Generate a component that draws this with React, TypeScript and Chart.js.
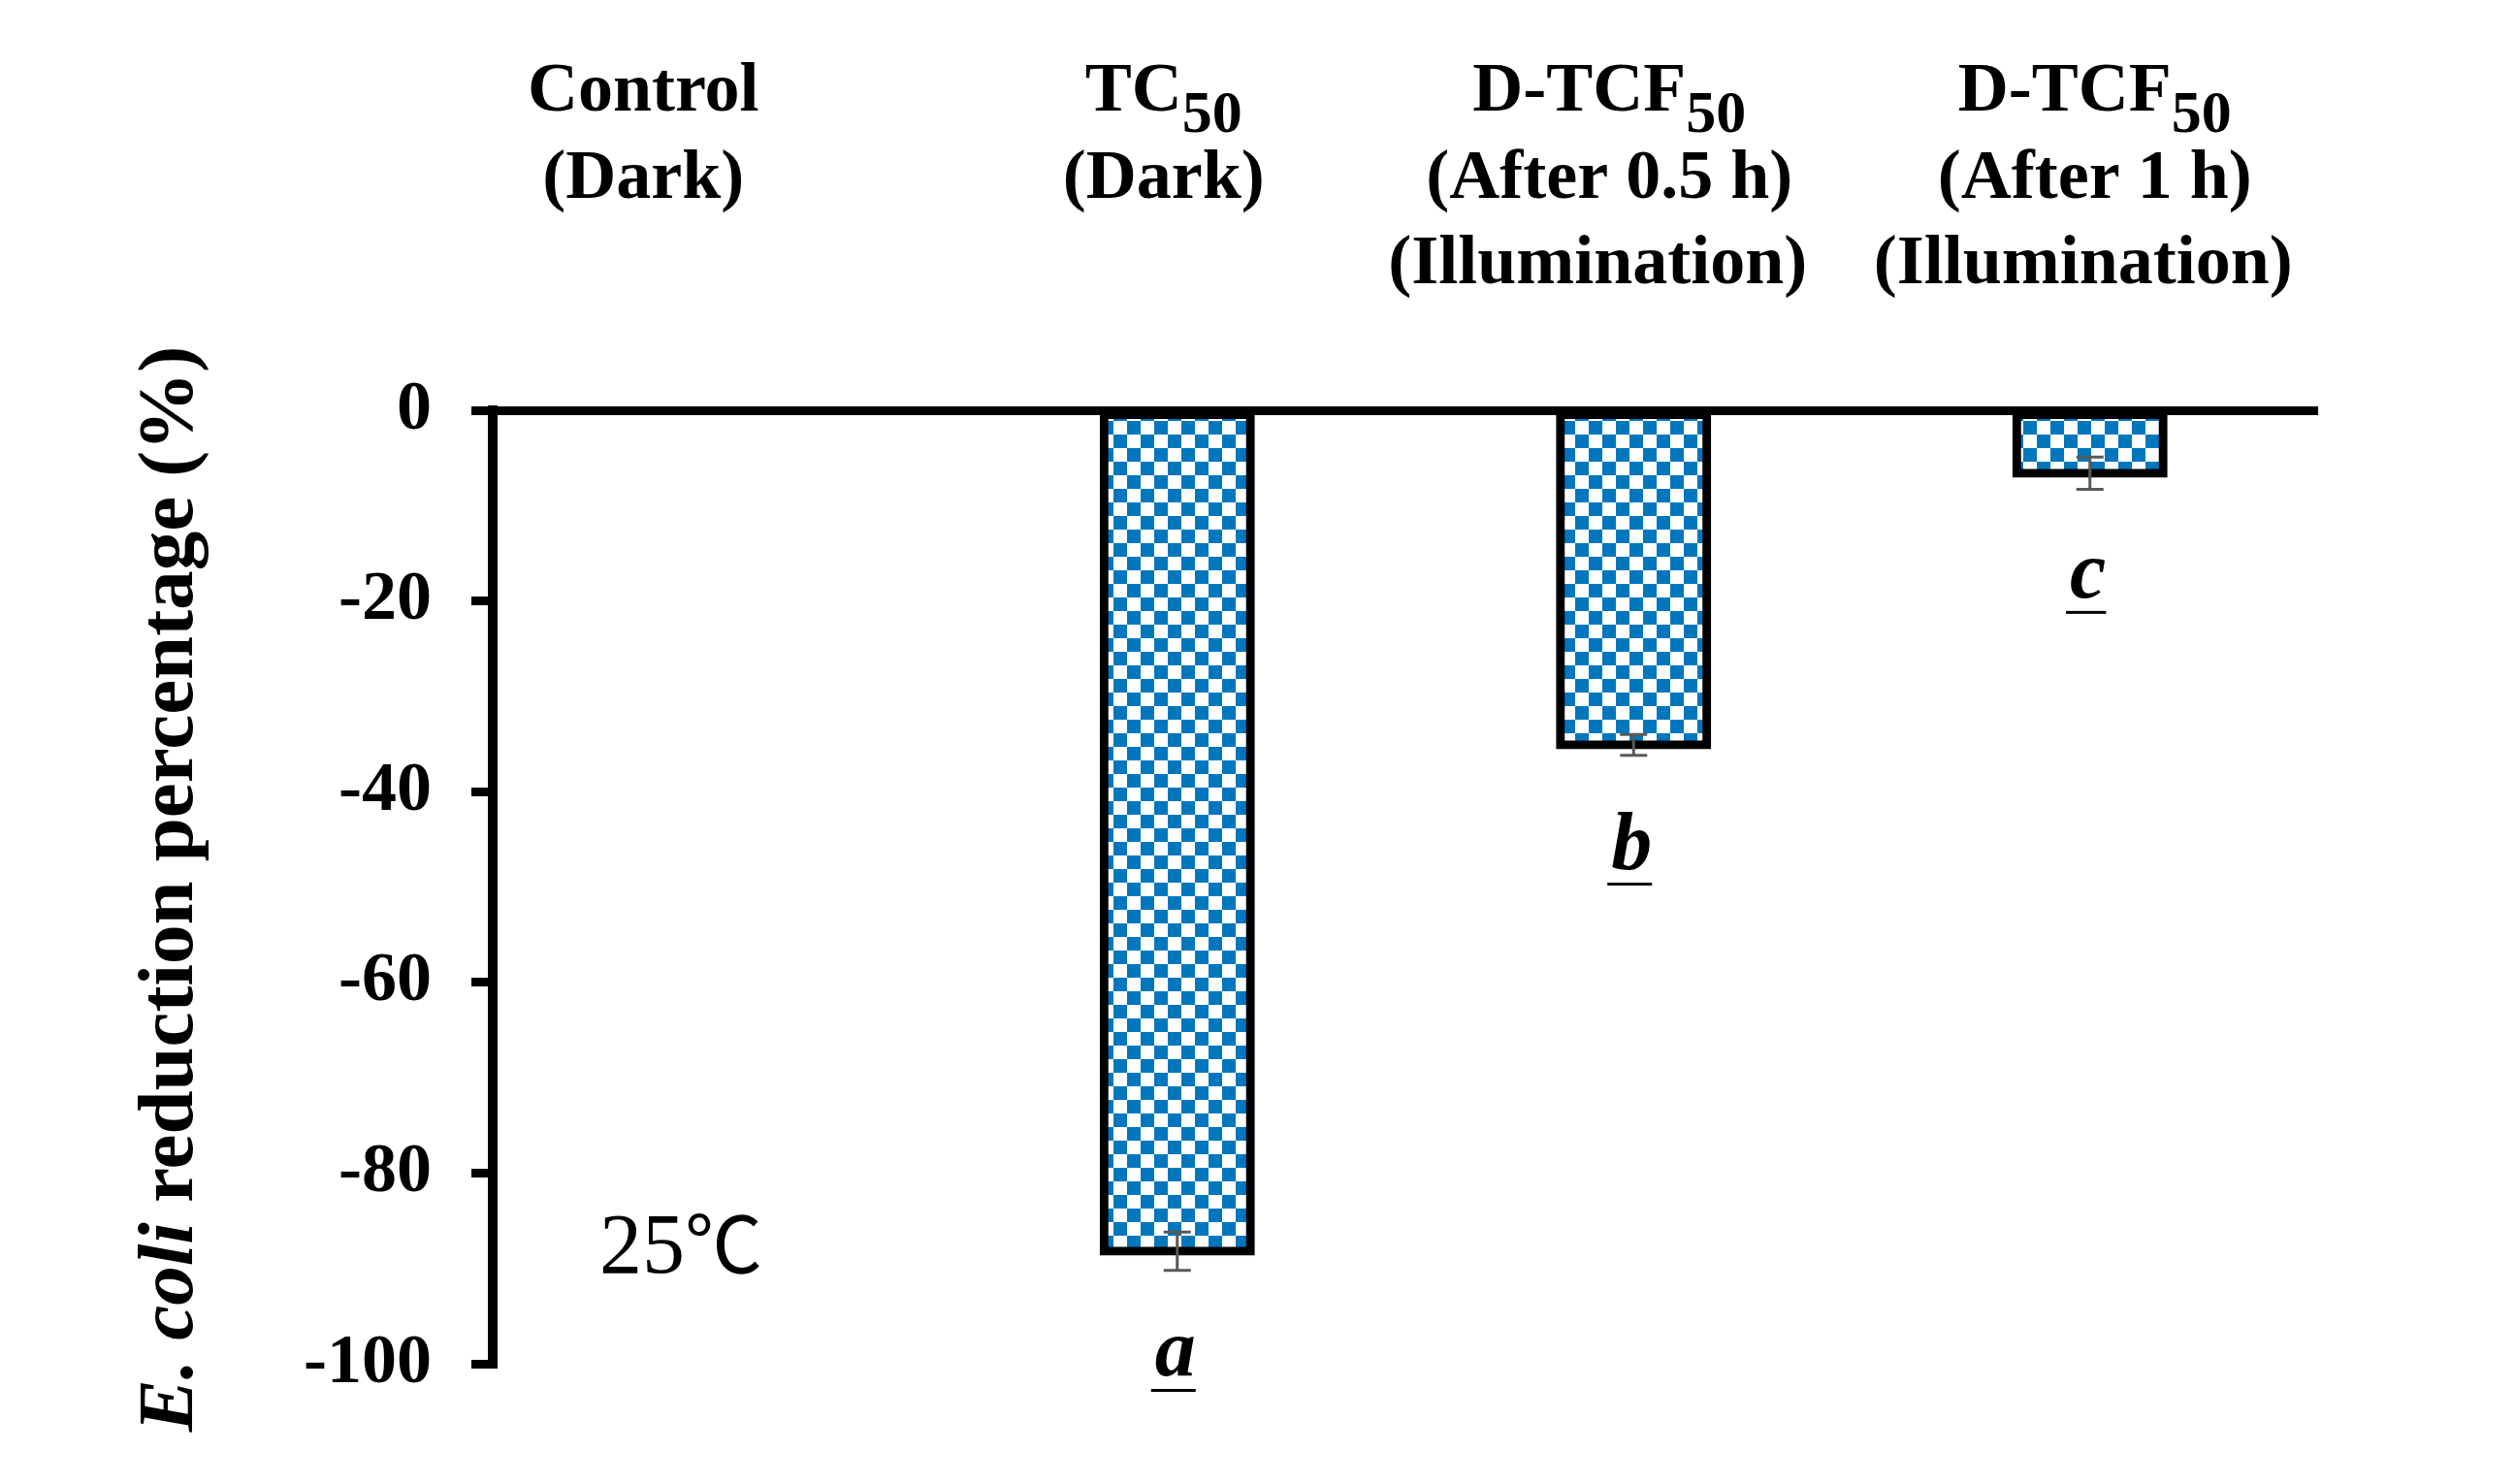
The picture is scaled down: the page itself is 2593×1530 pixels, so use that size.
import React, { useEffect, useRef } from "react";
import { Chart, registerables } from "chart.js";

Chart.register(...registerables);

// ---- data ----
const categories = ["Control (Dark)", "TC50 (Dark)", "D-TCF50 (After 0.5 h)", "D-TCF50 (After 1 h)"];
const labelMain = ["Control", "TC", "D-TCF", "D-TCF"];
const labelSub = ["", "50", "50", "50"];
const labelLine2 = ["(Dark)", "(Dark)", "(After 0.5 h)", "(After 1 h)"];
const labelLine3 = ["", "", "(Illumination)", "(Illumination)"];
const reductionValues = [0, -88.2, -35.1, -6.6];
const errorValues = [0, 2.0, 1.1, 1.7];
const letterLabels = ["", "a", "b", "c"];
const yMin = -100;
const yMax = 0;
const yStep = 20;
const yTitleItalic = "E. coli";
const yTitleRest = " reduction percentage (%)";
const tempNumber = "25";
const tempUnit = "\u2103";

const SERIF = "'Liberation Serif', 'Times New Roman', serif";
const BLUE = "#0077BD";

function makePattern(ctx: CanvasRenderingContext2D) {
  const c = document.createElement("canvas");
  c.width = 28;
  c.height = 28;
  const p = c.getContext("2d")!;
  p.fillStyle = "#ffffff";
  p.fillRect(0, 0, 28, 28);
  p.fillStyle = BLUE;
  p.fillRect(0, 0, 14, 14);
  p.fillRect(14, 14, 14, 14);
  return ctx.createPattern(c, "repeat");
}

const labelOffsets = [-80, -14, -25, 5];

const decorPlugin = {
  id: "decor",
  afterDatasetsDraw(chart: any) {
    const ctx: CanvasRenderingContext2D = chart.ctx;
    const meta = chart.getDatasetMeta(0);
    const y = chart.scales.y;
    ctx.save();
    // error bars
    ctx.strokeStyle = "#595959";
    ctx.lineWidth = 3;
    meta.data.forEach((bar: any, i: number) => {
      const e = errorValues[i];
      if (!e) return;
      const v = reductionValues[i];
      const x = bar.x;
      const y1 = y.getPixelForValue(v - e);
      const y2 = y.getPixelForValue(v + e);
      ctx.beginPath();
      ctx.moveTo(x, y1);
      ctx.lineTo(x, y2);
      ctx.moveTo(x - 14, y1);
      ctx.lineTo(x + 14, y1);
      ctx.moveTo(x - 14, y2);
      ctx.lineTo(x + 14, y2);
      ctx.stroke();
    });
    // significance letters
    ctx.fillStyle = "#000";
    ctx.font = `italic bold 84px ${SERIF}`;
    ctx.textAlign = "center";
    ctx.textBaseline = "alphabetic";
    meta.data.forEach((bar: any, i: number) => {
      const t = letterLabels[i];
      if (!t) return;
      const base = bar.y + 128;
      ctx.fillText(t, bar.x - 2, base);
      const w = ctx.measureText(t).width;
      ctx.fillRect(bar.x - 4 - w / 2 - 2, base + 14, w + 4, 3);
    });
    ctx.restore();
  },
  afterDraw(chart: any) {
    const ctx: CanvasRenderingContext2D = chart.ctx;
    const xs = chart.scales.x;
    const ys = chart.scales.y;
    const area = chart.chartArea;
    ctx.save();
    ctx.fillStyle = "#000";
    ctx.textBaseline = "alphabetic";
    // category labels (top)
    const mainFont = `bold 72px ${SERIF}`;
    const subFont = `bold 62px ${SERIF}`;
    categories.forEach((_, i) => {
      const cx = xs.getPixelForValue(i) + labelOffsets[i];
      ctx.font = mainFont;
      const wm = ctx.measureText(labelMain[i]).width;
      ctx.font = subFont;
      const ws = labelSub[i] ? ctx.measureText(labelSub[i]).width : 0;
      const start = cx - (wm + ws) / 2;
      ctx.textAlign = "left";
      ctx.font = mainFont;
      ctx.fillText(labelMain[i], start, 114);
      if (labelSub[i]) {
        ctx.font = subFont;
        ctx.fillText(labelSub[i], start + wm, 136);
      }
      ctx.textAlign = "center";
      ctx.font = mainFont;
      if (labelLine2[i]) ctx.fillText(labelLine2[i], cx, 204);
      if (labelLine3[i]) ctx.fillText(labelLine3[i], cx - 12, 292);
    });
    // y axis title (rotated, mixed italic)
    ctx.save();
    ctx.translate(198, (area.top + area.bottom) / 2 + 2);
    ctx.rotate(-Math.PI / 2);
    const fItal = `italic bold 81px ${SERIF}`;
    const fBold = `bold 81px ${SERIF}`;
    ctx.font = fItal;
    const w1 = ctx.measureText(yTitleItalic).width;
    ctx.font = fBold;
    const w2 = ctx.measureText(yTitleRest).width;
    const s = -(w1 + w2) / 2;
    ctx.textAlign = "left";
    ctx.font = fItal;
    ctx.fillText(yTitleItalic, s, 0);
    ctx.font = fBold;
    ctx.fillText(yTitleRest, s + w1, 0);
    ctx.restore();
    // temperature annotation
    const tx = area.left + 110;
    const ty = ys.getPixelForValue(-90) + 4;
    ctx.textAlign = "left";
    ctx.font = `88px "Liberation Serif"`;
    ctx.fillText(tempNumber, tx, ty);
    const wn = ctx.measureText(tempNumber).width;
    ctx.font = `80px "Noto Sans CJK SC"`;
    ctx.fillText(tempUnit, tx + wn, ty);
    ctx.restore();
  },
};

export default function App() {
  const ref = useRef<HTMLCanvasElement | null>(null);
  useEffect(() => {
    const canvas = ref.current!;
    const ctx = canvas.getContext("2d")!;
    const pattern = makePattern(ctx);
    const chart = new Chart(canvas, {
      type: "bar",
      data: {
        labels: categories,
        datasets: [
          {
            data: reductionValues,
            backgroundColor: pattern as any,
            borderColor: "#000",
            borderWidth: 9,
            borderSkipped: false,
            inflateAmount: ((c: any) => (c.raw === 0 ? 0 : 4.5)) as any,
            barPercentage: 0.321,
            categoryPercentage: 1,
          } as any,
        ],
      },
      options: {
        responsive: false,
        animation: false,
        devicePixelRatio: 1,
        layout: { padding: { left: 0, right: 203, top: 423, bottom: 124 } },
        plugins: { legend: { display: false }, tooltip: { enabled: false } },
        scales: {
          x: { display: false, offset: true, grid: { display: false } },
          y: {
            min: yMin,
            max: yMax,
            ticks: {
              stepSize: yStep,
              color: "#000",
              padding: 41,
              font: { family: SERIF, size: 72, weight: "bold" },
            },
            grid: {
              drawOnChartArea: true,
              color: (c: any) => (c.tick && c.tick.value === 0 ? "#000" : "rgba(0,0,0,0)"),
              tickColor: "#000",
              tickLength: 22,
              lineWidth: 9,
              tickWidth: 9,
            },
            border: { display: true, color: "#000", width: 10 },
            afterFit: (s: any) => {
              s.width = 508;
            },
          },
        },
      } as any,
      plugins: [decorPlugin],
    });
    return () => chart.destroy();
  }, []);
  return (
    <div style={{ position: "absolute", left: 0, top: 0, width: 2593, height: 1530, background: "#fff" }}>
      <canvas ref={ref} width={2593} height={1530} style={{ width: 2593, height: 1530, display: "block" }} />
    </div>
  );
}
